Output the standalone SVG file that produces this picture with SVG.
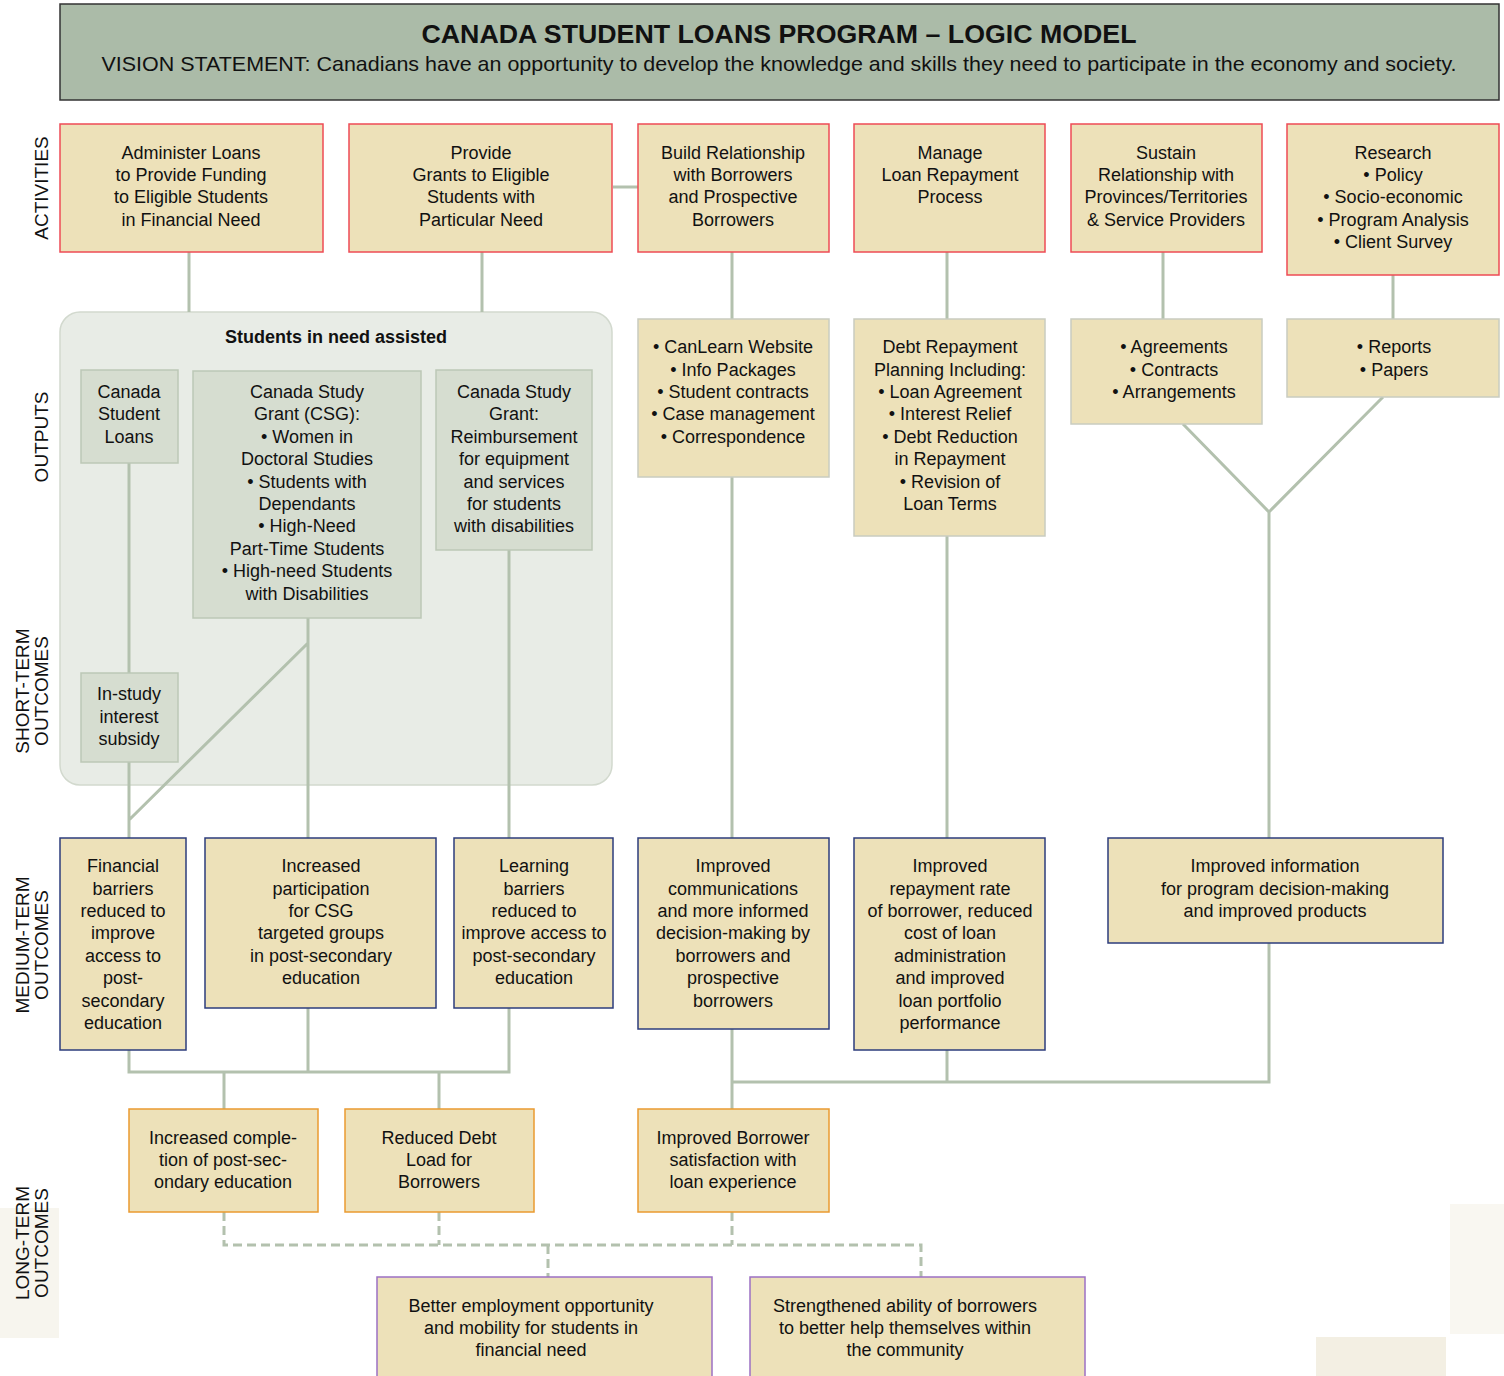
<svg xmlns="http://www.w3.org/2000/svg" width="1504" height="1376" viewBox="0 0 1504 1376">
<style>
text{font-family:"Liberation Sans",Arial,sans-serif;fill:#111;}
.t{font-size:18px;text-anchor:middle;}
.side{font-size:19px;text-anchor:middle;}
.act{fill:#ede1b9;stroke:#ee4b55;stroke-width:1.5;}
.out{fill:#ede1b9;stroke:#c9ccc0;stroke-width:1.5;}
.grp{fill:#d6ddd0;stroke:#bcc7b7;stroke-width:1.5;}
.med{fill:#ede1b9;stroke:#2c3c7c;stroke-width:1.5;}
.lng{fill:#ede1b9;stroke:#ea9a30;stroke-width:1.5;}
.fin{fill:#ede1b9;stroke:#9c70c4;stroke-width:1.5;}
.ln{fill:none;stroke:#b3c1ae;stroke-width:3;}
.dl{fill:none;stroke:#b3c1ae;stroke-width:3;stroke-dasharray:9,5;}
</style>
<rect width="1504" height="1376" fill="#fff"/>
<rect x="0" y="1208" width="59" height="130" fill="#f7f5ee"/>
<rect x="1450" y="1204" width="54" height="130" fill="#f9f7f1"/>
<rect x="1316" y="1337" width="130" height="39" fill="#f3efe3"/>

<g id="header">
<rect x="60" y="4" width="1439" height="96" fill="#abbba8" stroke="#333" stroke-width="1.5"/>
<text x="779" y="43" style="font-size:26px;font-weight:bold;text-anchor:middle" textLength="715" lengthAdjust="spacingAndGlyphs">CANADA STUDENT LOANS PROGRAM – LOGIC MODEL</text>
<text x="779" y="71" style="font-size:21px;text-anchor:middle" textLength="1355" lengthAdjust="spacingAndGlyphs">VISION STATEMENT: Canadians have an opportunity to develop the knowledge and skills they need to participate in the economy and society.</text>
</g>

<g id="row-labels">
<text class="side" transform="translate(48,188) rotate(-90)">ACTIVITIES</text>
<text class="side" transform="translate(48,437) rotate(-90)">OUTPUTS</text>
<text class="side" transform="translate(29,691) rotate(-90)">SHORT-TERM</text>
<text class="side" transform="translate(48,691) rotate(-90)">OUTCOMES</text>
<text class="side" transform="translate(29,945) rotate(-90)">MEDIUM-TERM</text>
<text class="side" transform="translate(48,945) rotate(-90)">OUTCOMES</text>
<text class="side" transform="translate(29,1243) rotate(-90)">LONG-TERM</text>
<text class="side" transform="translate(48,1243) rotate(-90)">OUTCOMES</text>
</g>

<g id="students-group"><rect x="60" y="312" width="552" height="473" rx="20" fill="#e8ece6" stroke="#d2d9ce" stroke-width="1.5"/>
<text x="336" y="343" style="font-size:18px;font-weight:bold;text-anchor:middle">Students in need assisted</text></g>

<g id="connectors">
<path class="ln" d="M189 252V312M482 252V312M613 187H638"/>
<path class="ln" d="M129 463V673M129 762V838M129 820L308 643M308 618V838M509 550V838"/>
<path class="ln" d="M732 252V319M732 477V838M947 252V319M947 536V838M1163 252V319M1393 275V319"/>
<path class="ln" d="M1183 424L1269 512L1383 397M1269 512V838"/>
<path class="ln" d="M129 1050V1072H509V1008M308 1008V1072M224 1072V1109M439 1072V1109"/>
<path class="ln" d="M732 1029V1109M947 1050V1082M1269 943V1082H732"/>
<path class="dl" d="M224 1212V1245H921V1277M439 1212V1245M732 1212V1245M548 1245V1277"/>
</g>

<g id="act1"><rect class="act" x="60" y="124" width="263" height="128"/>
<text class="t" x="191" y="159">Administer Loans</text><text class="t" x="191" y="181">to Provide Funding</text><text class="t" x="191" y="203">to Eligible Students</text><text class="t" x="191" y="226">in Financial Need</text></g>
<g id="act2"><rect class="act" x="349" y="124" width="263" height="128"/>
<text class="t" x="481" y="159">Provide</text><text class="t" x="481" y="181">Grants to Eligible</text><text class="t" x="481" y="203">Students with</text><text class="t" x="481" y="226">Particular Need</text></g>
<g id="act3"><rect class="act" x="638" y="124" width="191" height="128"/>
<text class="t" x="733" y="159">Build Relationship</text><text class="t" x="733" y="181">with Borrowers</text><text class="t" x="733" y="203">and Prospective</text><text class="t" x="733" y="226">Borrowers</text></g>
<g id="act4"><rect class="act" x="854" y="124" width="191" height="128"/>
<text class="t" x="950" y="159">Manage</text><text class="t" x="950" y="181">Loan Repayment</text><text class="t" x="950" y="203">Process</text></g>
<g id="act5"><rect class="act" x="1071" y="124" width="191" height="128"/>
<text class="t" x="1166" y="159">Sustain</text><text class="t" x="1166" y="181">Relationship with</text><text class="t" x="1166" y="203">Provinces/Territories</text><text class="t" x="1166" y="226">&amp; Service Providers</text></g>
<g id="act6"><rect class="act" x="1287" y="124" width="212" height="151"/>
<text class="t" x="1393" y="159">Research</text><text class="t" x="1393" y="181">• Policy</text><text class="t" x="1393" y="203">• Socio-economic</text><text class="t" x="1393" y="226">• Program Analysis</text><text class="t" x="1393" y="248">• Client Survey</text></g>

<g id="out-csl"><rect class="grp" x="81" y="370" width="97" height="93"/>
<text class="t" x="129" y="398">Canada</text><text class="t" x="129" y="420">Student</text><text class="t" x="129" y="443">Loans</text></g>
<g id="out-csg"><rect class="grp" x="193" y="371" width="228" height="247"/>
<text class="t" x="307" y="398">Canada Study</text><text class="t" x="307" y="420">Grant (CSG):</text><text class="t" x="307" y="443">• Women in</text><text class="t" x="307" y="465">Doctoral Studies</text><text class="t" x="307" y="488">• Students with</text><text class="t" x="307" y="510">Dependants</text><text class="t" x="307" y="532">• High-Need</text><text class="t" x="307" y="555">Part-Time Students</text><text class="t" x="307" y="577">• High-need Students</text><text class="t" x="307" y="600">with Disabilities</text></g>
<g id="out-reimb"><rect class="grp" x="436" y="370" width="156" height="180"/>
<text class="t" x="514" y="398">Canada Study</text><text class="t" x="514" y="420">Grant:</text><text class="t" x="514" y="443">Reimbursement</text><text class="t" x="514" y="465">for equipment</text><text class="t" x="514" y="488">and services</text><text class="t" x="514" y="510">for students</text><text class="t" x="514" y="532">with disabilities</text></g>
<g id="st-subsidy"><rect class="grp" x="81" y="673" width="97" height="89"/>
<text class="t" x="129" y="700">In-study</text><text class="t" x="129" y="723">interest</text><text class="t" x="129" y="745">subsidy</text></g>

<g id="out-canlearn"><rect class="out" x="638" y="319" width="191" height="158"/>
<text class="t" x="733" y="353">• CanLearn Website</text><text class="t" x="733" y="376">• Info Packages</text><text class="t" x="733" y="398">• Student contracts</text><text class="t" x="733" y="420">• Case management</text><text class="t" x="733" y="443">• Correspondence</text></g>
<g id="out-debt"><rect class="out" x="854" y="319" width="191" height="217"/>
<text class="t" x="950" y="353">Debt Repayment</text><text class="t" x="950" y="376">Planning Including:</text><text class="t" x="950" y="398">• Loan Agreement</text><text class="t" x="950" y="420">• Interest Relief</text><text class="t" x="950" y="443">• Debt Reduction</text><text class="t" x="950" y="465">in Repayment</text><text class="t" x="950" y="488">• Revision of</text><text class="t" x="950" y="510">Loan Terms</text></g>
<g id="out-agree"><rect class="out" x="1071" y="319" width="191" height="105"/>
<text class="t" x="1174" y="353">• Agreements</text><text class="t" x="1174" y="376">• Contracts</text><text class="t" x="1174" y="398">• Arrangements</text></g>
<g id="out-reports"><rect class="out" x="1287" y="319" width="212" height="78"/>
<text class="t" x="1394" y="353">• Reports</text><text class="t" x="1394" y="376">• Papers</text></g>

<g id="med-fin"><rect class="med" x="60" y="838" width="126" height="212"/>
<text class="t" x="123" y="872">Financial</text><text class="t" x="123" y="895">barriers</text><text class="t" x="123" y="917">reduced to</text><text class="t" x="123" y="939">improve</text><text class="t" x="123" y="962">access to</text><text class="t" x="123" y="984">post-</text><text class="t" x="123" y="1007">secondary</text><text class="t" x="123" y="1029">education</text></g>
<g id="med-part"><rect class="med" x="205" y="838" width="231" height="170"/>
<text class="t" x="321" y="872">Increased</text><text class="t" x="321" y="895">participation</text><text class="t" x="321" y="917">for CSG</text><text class="t" x="321" y="939">targeted groups</text><text class="t" x="321" y="962">in post-secondary</text><text class="t" x="321" y="984">education</text></g>
<g id="med-learn"><rect class="med" x="454" y="838" width="159" height="170"/>
<text class="t" x="534" y="872">Learning</text><text class="t" x="534" y="895">barriers</text><text class="t" x="534" y="917">reduced to</text><text class="t" x="534" y="939">improve access to</text><text class="t" x="534" y="962">post-secondary</text><text class="t" x="534" y="984">education</text></g>
<g id="med-comm"><rect class="med" x="638" y="838" width="191" height="191"/>
<text class="t" x="733" y="872">Improved</text><text class="t" x="733" y="895">communications</text><text class="t" x="733" y="917">and more informed</text><text class="t" x="733" y="939">decision-making by</text><text class="t" x="733" y="962">borrowers and</text><text class="t" x="733" y="984">prospective</text><text class="t" x="733" y="1007">borrowers</text></g>
<g id="med-repay"><rect class="med" x="854" y="838" width="191" height="212"/>
<text class="t" x="950" y="872">Improved</text><text class="t" x="950" y="895">repayment rate</text><text class="t" x="950" y="917">of borrower, reduced</text><text class="t" x="950" y="939">cost of loan</text><text class="t" x="950" y="962">administration</text><text class="t" x="950" y="984">and improved</text><text class="t" x="950" y="1007">loan portfolio</text><text class="t" x="950" y="1029">performance</text></g>
<g id="med-info"><rect class="med" x="1108" y="838" width="335" height="105"/>
<text class="t" x="1275" y="872">Improved information</text><text class="t" x="1275" y="895">for program decision-making</text><text class="t" x="1275" y="917">and improved products</text></g>

<g id="lt-complete"><rect class="lng" x="129" y="1109" width="189" height="103"/>
<text class="t" x="223" y="1144">Increased comple-</text><text class="t" x="223" y="1166">tion of post-sec-</text><text class="t" x="223" y="1188">ondary education</text></g>
<g id="lt-debt"><rect class="lng" x="345" y="1109" width="189" height="103"/>
<text class="t" x="439" y="1144">Reduced Debt</text><text class="t" x="439" y="1166">Load for</text><text class="t" x="439" y="1188">Borrowers</text></g>
<g id="lt-satisf"><rect class="lng" x="638" y="1109" width="191" height="103"/>
<text class="t" x="733" y="1144">Improved Borrower</text><text class="t" x="733" y="1166">satisfaction with</text><text class="t" x="733" y="1188">loan experience</text></g>
<g id="lt-employ"><rect class="fin" x="377" y="1277" width="335" height="110"/>
<text class="t" x="531" y="1312">Better employment opportunity</text><text class="t" x="531" y="1334">and mobility for students in</text><text class="t" x="531" y="1356">financial need</text></g>
<g id="lt-strength"><rect class="fin" x="750" y="1277" width="335" height="110"/>
<text class="t" x="905" y="1312">Strengthened ability of borrowers</text><text class="t" x="905" y="1334">to better help themselves within</text><text class="t" x="905" y="1356">the community</text></g>
</svg>
